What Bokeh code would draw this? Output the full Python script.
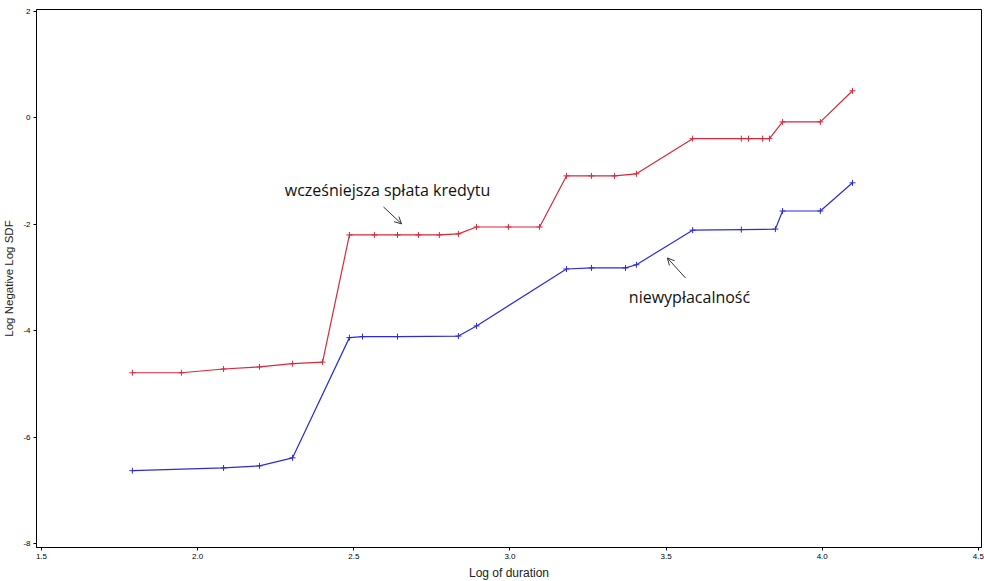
from bokeh.plotting import figure
from bokeh.models import Range1d, Arrow, OpenHead, Label, FixedTicker
from bokeh.embed import file_html
from bokeh.resources import INLINE

# Red series: wcześniejsza spłata kredytu (early repayment)
prepay_x = [1.791, 1.948, 2.083, 2.198, 2.304, 2.400, 2.486, 2.566, 2.640, 2.707,
            2.774, 2.835, 2.893, 2.995, 3.095, 3.181, 3.261, 3.335, 3.405, 3.585,
            3.741, 3.764, 3.809, 3.831, 3.873, 3.994, 4.097]
prepay_y = [-4.79, -4.79, -4.72, -4.68, -4.62, -4.59, -2.20, -2.20, -2.20, -2.20,
            -2.20, -2.18, -2.05, -2.05, -2.05, -1.09, -1.09, -1.09, -1.05, -0.39,
            -0.39, -0.39, -0.39, -0.39, -0.075, -0.075, 0.51]

# Blue series: niewypłacalność (default)
default_x = [1.791, 2.083, 2.198, 2.304, 2.486, 2.528, 2.640, 2.835, 2.893, 3.181,
             3.261, 3.370, 3.405, 3.585, 3.741, 3.850, 3.873, 3.994, 4.097]
default_y = [-6.63, -6.58, -6.54, -6.39, -4.13, -4.11, -4.11, -4.10, -3.91, -2.84,
             -2.82, -2.82, -2.76, -2.11, -2.10, -2.09, -1.75, -1.75, -1.22]

x_ticks = [1.5, 2.0, 2.5, 3.0, 3.5, 4.0, 4.5]
x_tick_labels = ["1.5", "2.0", "2.5", "3.0", "3.5", "4.0", "4.5"]
y_ticks = [2, 0, -2, -4, -6, -8]
y_tick_labels = ["2", "0", "-2", "-4", "-6", "-8"]

label_prepay = "wcześniejsza spłata kredytu"
label_default = "niewypłacalność"

RED = "#d8283c"
BLUE = "#2b2bdc"
AX_FONT = "Liberation Sans Narrow, Arial Narrow, Liberation Sans, Arial"

p = figure(frame_width=945, frame_height=538,
           x_range=Range1d(1.484, 4.51), y_range=Range1d(-8.075, 2.038),
           output_backend="svg", toolbar_location=None,
           min_border_left=36, min_border_right=3, min_border_top=9,
           min_border_bottom=34)

p.xgrid.visible = False
p.ygrid.visible = False
p.outline_line_color = "#000000"
p.outline_line_width = 1
p.background_fill_color = "white"
p.border_fill_color = "white"

p.line(prepay_x, prepay_y, line_color=RED, line_width=1.2)
p.scatter(prepay_x, prepay_y, marker="cross", size=6, line_color=RED, line_width=1)
p.line(default_x, default_y, line_color=BLUE, line_width=1.2)
p.scatter(default_x, default_y, marker="cross", size=6, line_color=BLUE, line_width=1)

p.xaxis.ticker = FixedTicker(ticks=x_ticks)
p.xaxis.major_label_overrides = {t: l for t, l in zip(x_ticks, x_tick_labels)}
p.yaxis.ticker = FixedTicker(ticks=y_ticks)
p.yaxis.major_label_overrides = {t: l for t, l in zip(y_ticks, y_tick_labels)}

for ax in (p.xaxis, p.yaxis):
    ax.minor_tick_line_color = None
    ax.major_tick_in = 0
    ax.major_tick_out = 3
    ax.axis_line_color = "#000000"
    ax.major_tick_line_color = "#000000"
    ax.major_label_text_font = AX_FONT
    ax.major_label_text_font_size = "8px"
    ax.major_label_text_color = "#000000"
    ax.major_label_standoff = 3
    ax.axis_label_text_font = AX_FONT
    ax.axis_label_text_font_style = "normal"
    ax.axis_label_text_color = "#222222"
    ax.axis_label_standoff = 5

p.xaxis.axis_label_text_font_size = "12px"
p.xaxis.axis_label_standoff = 4
p.yaxis.axis_label_text_font_size = "11.5px"

p.xaxis.axis_label = "Log of duration"
p.yaxis.axis_label = "Log Negative Log SDF"

# annotations
p.add_layout(Label(x=2.608, y=-1.353, text=label_prepay, text_align="center",
                   text_baseline="middle", text_font="Open Sans",
                   text_font_size="16px", text_color="#111111"))
p.add_layout(Label(x=3.575, y=-3.365, text=label_default, text_align="center",
                   text_baseline="middle", text_font="Open Sans",
                   text_font_size="16px", text_color="#111111"))
p.add_layout(Arrow(end=OpenHead(size=7, line_color="#333333", line_width=1),
                   x_start=2.595, y_start=-1.673, x_end=2.653, y_end=-1.992,
                   line_color="#333333", line_width=1))
p.add_layout(Arrow(end=OpenHead(size=7, line_color="#333333", line_width=1),
                   x_start=3.562, y_start=-3.008, x_end=3.504, y_end=-2.632,
                   line_color="#333333", line_width=1))

open("out.html", "w").write(file_html(p, INLINE))
